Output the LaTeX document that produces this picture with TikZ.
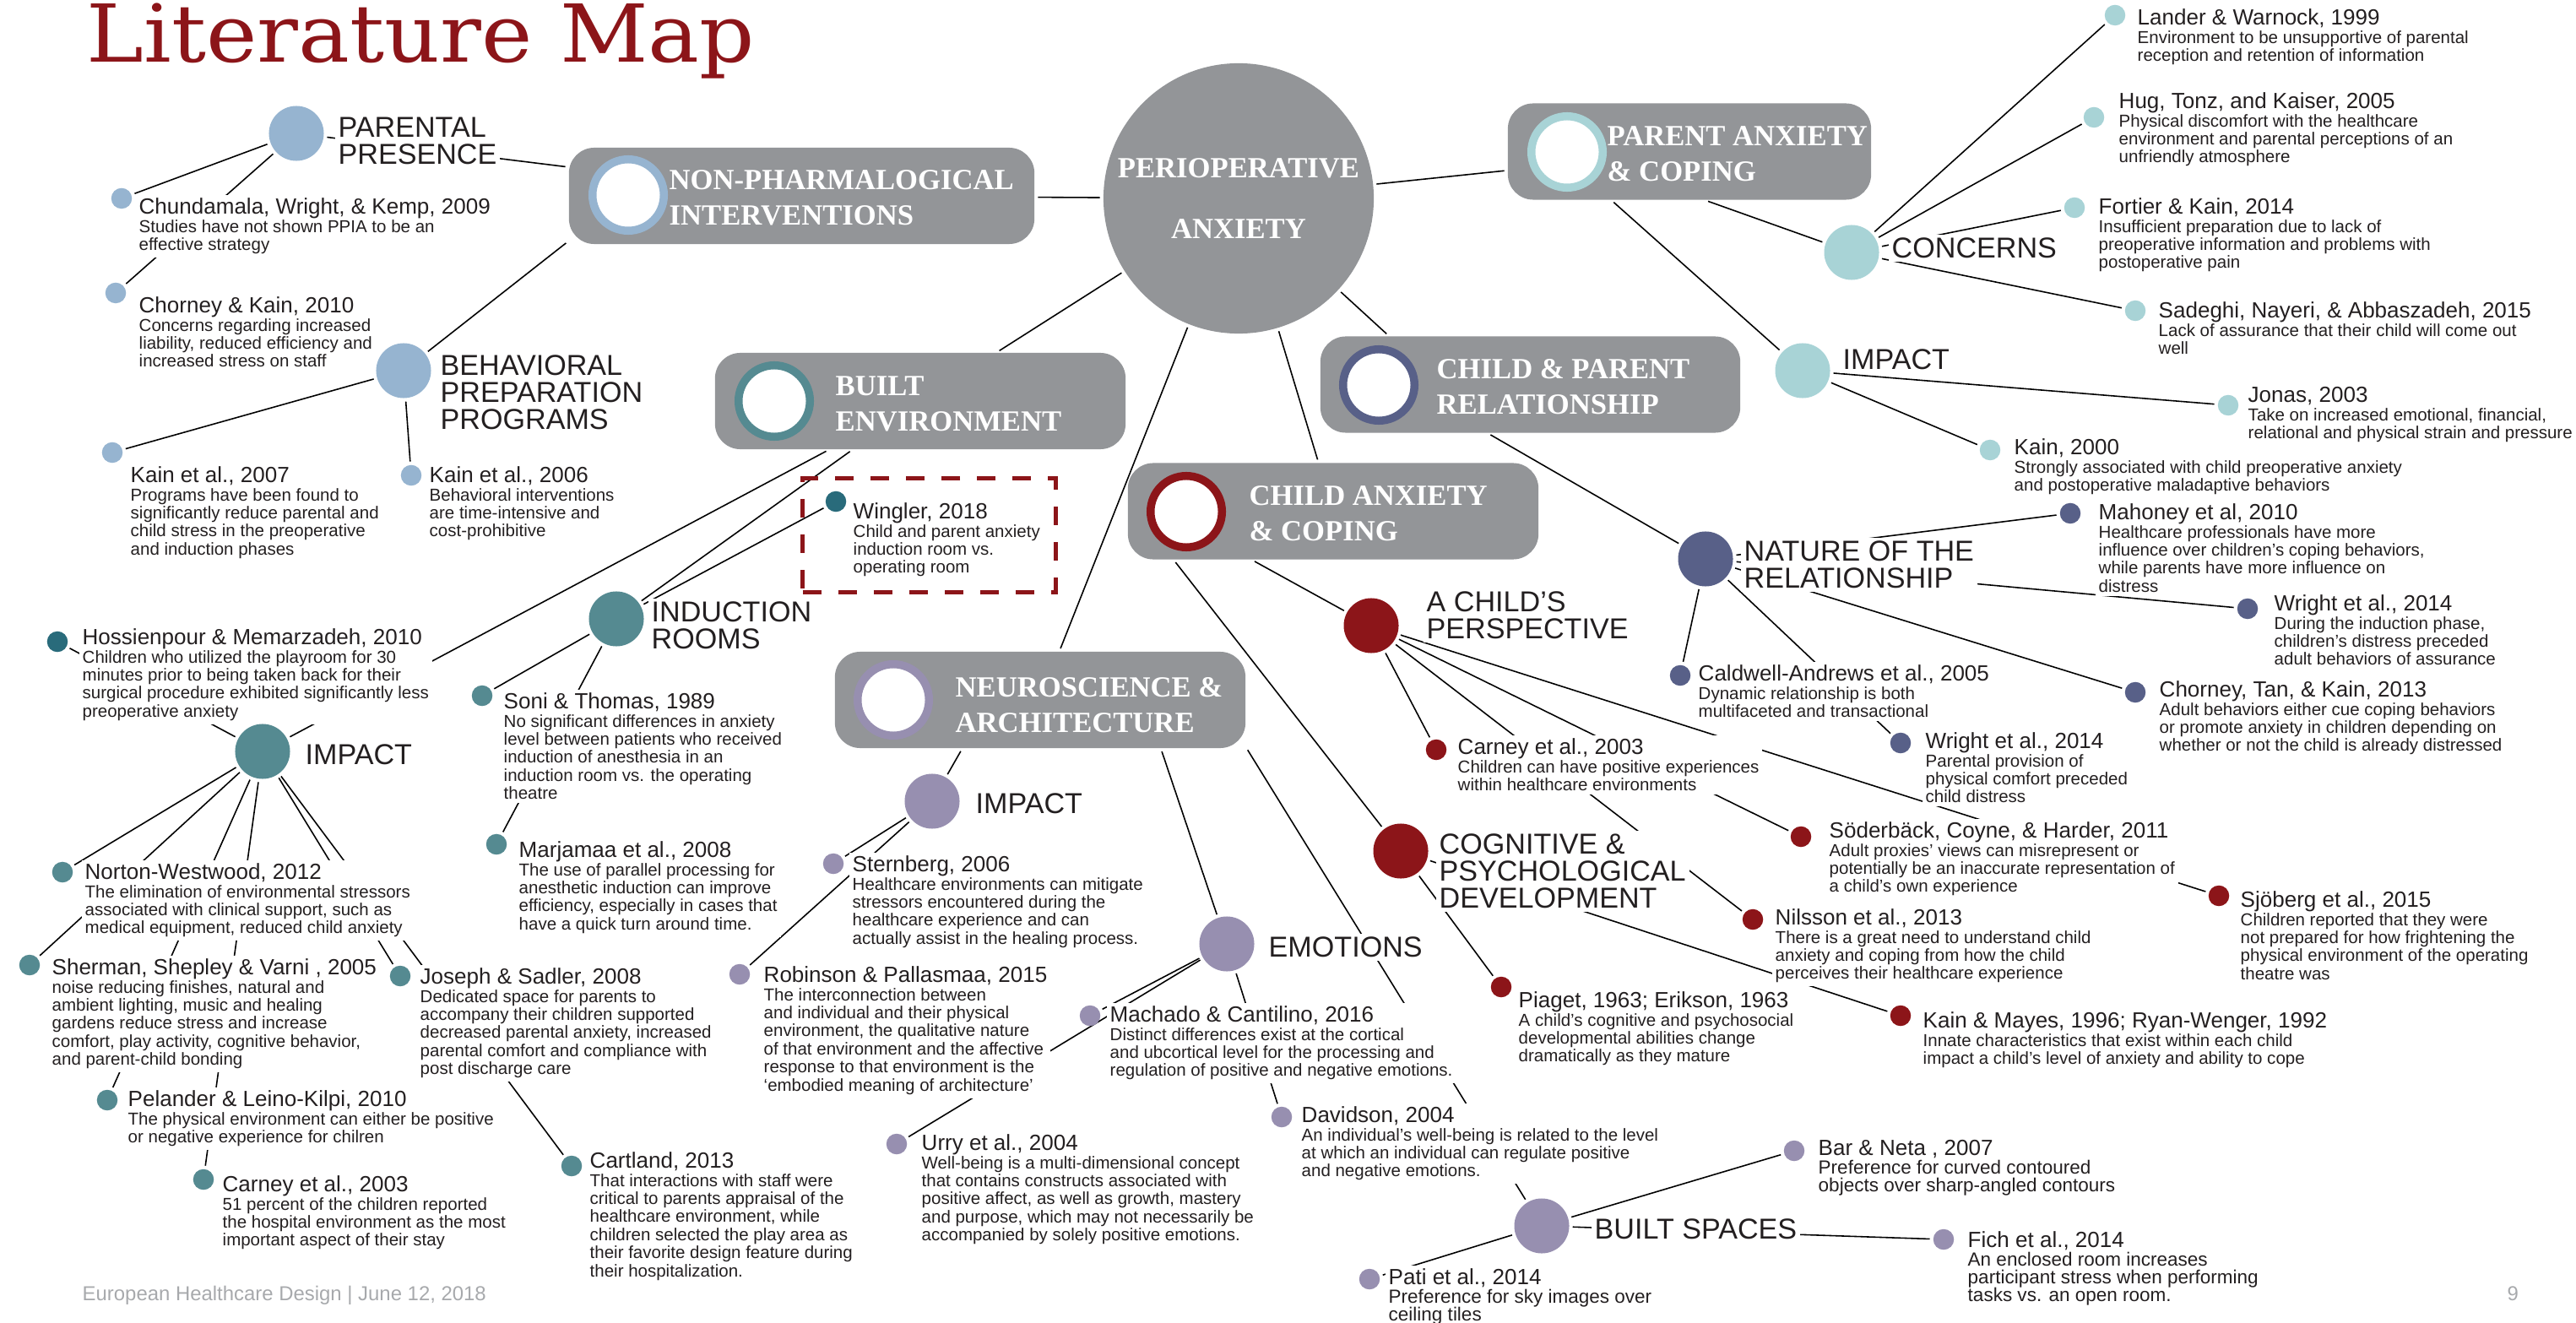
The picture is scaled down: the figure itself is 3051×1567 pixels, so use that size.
\documentclass[tikz,border=0pt]{standalone}
\usepackage{fontspec}
\setmainfont{Liberation Sans}
\newfontfamily\serifface{Liberation Serif}
\newfontfamily\mastface{DejaVu Serif}
\pgfdeclarelayer{lines}
\pgfsetlayers{lines,main}

\definecolor{GreyClr}{RGB}{147,149,152}
\definecolor{SteelClr}{RGB}{150,180,208}
\definecolor{TealClr}{RGB}{85,138,145}
\definecolor{DeepTealClr}{RGB}{41,107,123}
\definecolor{AquaClr}{RGB}{168,211,214}
\definecolor{SlateClr}{RGB}{88,96,136}
\definecolor{RedClr}{RGB}{140,21,25}
\definecolor{LilacClr}{RGB}{151,143,176}
\definecolor{TextClr}{RGB}{35,31,32}
\definecolor{FootClr}{RGB}{167,169,172}

\newcommand{\bigttlfont}{\mastface\fontsize{26.9}{30}\selectfont}
\newcommand{\hdrfont}{\serifface\bfseries\fontsize{9.85}{11.95}\selectfont}
\newcommand{\ctrfont}{\serifface\bfseries\fontsize{9.85}{20.5}\selectfont}
\newcommand{\catfont}{\fontsize{9.7}{9.1}\selectfont}
\newcommand{\ttlfont}{\fontsize{7.4}{8}\selectfont}
\newcommand{\dscfont}{\fontsize{5.83}{6.1}\selectfont}
\newcommand{\bigdscfont}{\fontsize{6.4}{6.1}\selectfont}
\newcommand{\ftrfont}{\fontsize{6.8}{8}\selectfont}

\begin{document}
\begin{tikzpicture}[x=0.01cm, y=-0.01cm,
  hub/.style={circle, fill=#1, minimum size=0.65cm, inner sep=0pt},
  dot/.style={circle, fill=#1, minimum size=0.245cm, inner sep=0pt},
  ring/.style={circle, draw=#1, line width=0.095cm, fill=white, minimum size=0.845cm, inner sep=0pt},
  hdrbox/.style={rectangle, rounded corners=0.3cm, fill=GreyClr, minimum height=1.14cm, inner sep=0pt},
  hdrtext/.style={anchor=north west, inner sep=0pt, align=left, text=white, font=\hdrfont},
  cat/.style={anchor=north west, inner sep=0.04cm, fill=white, align=left, text=TextClr, font=\catfont},
  note/.style={anchor=north west, inner sep=0.04cm, fill=white, align=left, text=TextClr, font=\dscfont},
  link/.style={line width=0.45pt, shorten <=1pt, shorten >=1pt}]

\useasboundingbox (0,0) rectangle (3051,1567);

\node[anchor=base west, inner sep=0pt, text=RedClr, font=\bigttlfont] (maptitle) at (102,74) {\scalebox{1.08}[1]{Literature Map}};
\node[anchor=base west, inner sep=0pt, text=FootClr, font=\ftrfont] (footer) at (97,1540) {European Healthcare Design | June 12, 2018};
\node[anchor=base west, inner sep=0pt, text=FootClr, font=\ftrfont] (pagenum) at (2969,1540) {9};

% centre and the six themes
\node[circle, fill=GreyClr, minimum size=3.2cm, inner sep=0pt, align=center, text=white, font=\ctrfont] (peri) at (1467,235) {PERIOPERATIVE\\ANXIETY};

\node[hdrbox, minimum width=5.51cm] (nonpharm) at (949.5,232) {};
\node[ring=SteelClr] (nonpharmring) at (744,231) {};
\node[hdrtext] (nonpharmtxt) at (792,201) {NON-PHARMALOGICAL\\INTERVENTIONS};

\node[hdrbox, minimum width=4.86cm] (builtenv) at (1090,475) {};
\node[ring=TealClr] (builtenvring) at (917,475) {};
\node[hdrtext] (builtenvtxt) at (989,445) {BUILT\\ENVIRONMENT};

\node[hdrbox, minimum width=4.30cm] (parentanx) at (2001,179.5) {};
\node[ring=AquaClr] (parentanxring) at (1856,180) {};
\node[hdrtext] (parentanxtxt) at (1903,149) {PARENT ANXIETY\\\& COPING};

\node[hdrbox, minimum width=4.97cm] (childpar) at (1812.5,455.5) {};
\node[ring=SlateClr] (childparring) at (1633,456) {};
\node[hdrtext] (childpartxt) at (1701,425) {CHILD \& PARENT\\RELATIONSHIP};

\node[hdrbox, minimum width=4.86cm] (childanx) at (1579,605.5) {};
\node[ring=RedClr] (childanxring) at (1405,606) {};
\node[hdrtext] (childanxtxt) at (1479,575) {CHILD ANXIETY\\\& COPING};

\node[hdrbox, minimum width=4.86cm] (neuro) at (1232,829) {};
\node[ring=LilacClr] (neuroring) at (1058,829) {};
\node[hdrtext] (neurotxt) at (1131,802) {NEUROSCIENCE \&\\ARCHITECTURE};

\node[draw=RedClr, line width=0.05cm, dash pattern=on 0.22cm off 0.2cm, minimum width=2.99cm, minimum height=1.34cm, inner sep=0pt] (winglerframe) at (1100.5,634) {};

% sub-theme labels
\node[cat] (parpreslbl) at (396,134) {PARENTAL\\PRESENCE};
\node[cat] (behavlbl) at (517,416) {BEHAVIORAL\\PREPARATION\\PROGRAMS};
\node[cat] (inductlbl) at (767,708) {INDUCTION\\ROOMS};
\node[cat] (beimpactlbl) at (357,877) {IMPACT};
\node[cat] (concernslbl) at (2236,277) {CONCERNS};
\node[cat] (paimpactlbl) at (2178,409) {IMPACT};
\node[cat] (naturelbl) at (2061,636) {NATURE OF THE\\RELATIONSHIP};
\node[cat] (persplbl) at (1685,696) {A CHILD’S\\PERSPECTIVE};
\node[cat] (cognitlbl) at (1700,983) {COGNITIVE \&\\PSYCHOLOGICAL\\DEVELOPMENT};
\node[cat] (nsimpactlbl) at (1151,935) {IMPACT};
\node[cat] (emotionslbl) at (1498,1105) {EMOTIONS};
\node[cat] (builtsplbl) at (1884,1439) {BUILT SPACES};

% references
\node[note] (chundtxt) at (160,230) {{\ttlfont Chundamala, Wright, \& Kemp, 2009}\\Studies have not shown PPIA to be an\\effective strategy};
\node[note] (chorney10txt) at (160,347) {{\ttlfont Chorney \& Kain, 2010}\\Concerns regarding increased\\liability, reduced efficiency and\\increased stress on staff};
\node[note] (kain07txt) at (150,548) {{\ttlfont Kain et al., 2007}\\Programs have been found to\\significantly reduce parental and\\child stress in the preoperative\\and induction phases};
\node[note] (kain06txt) at (504,548) {{\ttlfont Kain et al., 2006}\\Behavioral interventions\\are time-intensive and\\cost-prohibitive};

\node[note] (winglertxt) at (1006,591) {{\ttlfont Wingler, 2018}\\Child and parent anxiety\\induction room vs.\\operating room};
\node[note] (hossientxt) at (93,740) {{\ttlfont Hossienpour \& Memarzadeh, 2010}\\Children who utilized the playroom for 30\\minutes prior to being taken back for their\\surgical procedure exhibited significantly less\\preoperative anxiety};
\node[note] (sonitxt) at (592,816) {{\ttlfont Soni \& Thomas, 1989}\\No significant differences in anxiety\\level between patients who received\\induction of anesthesia in an\\induction room vs. the operating\\theatre};
\node[note] (marjamaatxt) at (610,992) {{\ttlfont Marjamaa et al., 2008}\\The use of parallel processing for\\anesthetic induction can improve\\efficiency, especially in cases that\\have a quick turn around time.};
\node[note] (nortontxt) at (96,1018) {{\ttlfont Norton-Westwood, 2012}\\The elimination of environmental stressors\\associated with clinical support, such as\\medical equipment, reduced child anxiety};
\node[note] (shermantxt) at (57,1131) {{\ttlfont Sherman, Shepley \& Varni , 2005}\\noise reducing finishes, natural and\\ambient lighting, music and healing\\gardens reduce stress and increase\\comfort, play activity, cognitive behavior,\\and parent-child bonding};
\node[note] (pelandertxt) at (147,1287) {{\ttlfont Pelander \& Leino-Kilpi, 2010}\\The physical environment can either be positive\\or negative experience for chilren};
\node[note] (carneybtxt) at (259,1388) {{\ttlfont Carney et al., 2003}\\51 percent of the children reported\\the hospital environment as the most\\important aspect of their stay};
\node[note] (josephtxt) at (493,1142) {{\ttlfont Joseph \& Sadler, 2008}\\Dedicated space for parents to\\accompany their children supported\\decreased parental anxiety, increased\\parental comfort and compliance with\\post discharge care};
\node[note] (cartlandtxt) at (694,1360) {{\ttlfont Cartland, 2013}\\That interactions with staff were\\critical to parents appraisal of the\\healthcare environment, while\\children selected the play area as\\their favorite design feature during\\their hospitalization.};

\node[note] (landertxt) at (2527,6) {{\ttlfont Lander \& Warnock, 1999}\\Environment to be unsupportive of parental\\reception and retention of information};
\node[note] (hugtxt) at (2505,105) {{\ttlfont Hug, Tonz, and Kaiser, 2005}\\Physical discomfort with the healthcare\\environment and parental perceptions of an\\unfriendly atmosphere};
\node[note] (fortiertxt) at (2481,230) {{\ttlfont Fortier \& Kain, 2014}\\Insufficient preparation due to lack of\\preoperative information and problems with\\postoperative pain};
\node[note] (sadeghitxt) at (2552,353) {{\ttlfont Sadeghi, Nayeri, \& Abbaszadeh, 2015}\\Lack of assurance that their child will come out\\well};
\node[note] (kain00txt) at (2381,515) {{\ttlfont Kain, 2000}\\Strongly associated with child preoperative anxiety\\and postoperative maladaptive behaviors};
\node[note] (jonastxt) at (2658,454) {{\ttlfont Jonas, 2003}\\Take on increased emotional, financial,\\relational and physical strain and pressure};

\node[note] (caldwelltxt) at (2007,783) {{\ttlfont Caldwell-Andrews et al., 2005}\\Dynamic relationship is both\\multifaceted and transactional};
\node[note] (wrightbtxt) at (2276,863) {{\ttlfont Wright et al., 2014}\\Parental provision of\\physical comfort preceded\\child distress};
\node[note] (mahoneytxt) at (2481,592) {{\ttlfont Mahoney et al, 2010}\\Healthcare professionals have more\\influence over children’s coping behaviors,\\while parents have more influence on\\distress};
\node[note] (wrightatxt) at (2689,700) {{\ttlfont Wright et al., 2014}\\During the induction phase,\\children’s distress preceded\\adult behaviors of assurance};
\node[note] (chorney13txt) at (2553,802) {{\ttlfont Chorney, Tan, \& Kain, 2013}\\Adult behaviors either cue coping behaviors\\or promote anxiety in children depending on\\whether or not the child is already distressed};

\node[note] (carneyatxt) at (1722,870) {{\ttlfont Carney et al., 2003}\\Children can have positive experiences\\within healthcare environments};
\node[note] (soderbacktxt) at (2162,969) {{\ttlfont Söderbäck, Coyne, \& Harder, 2011}\\Adult proxies’ views can misrepresent or\\potentially be an inaccurate representation of\\a child’s own experience};
\node[note] (nilssontxt) at (2098,1072) {{\ttlfont Nilsson et al., 2013}\\There is a great need to understand child\\anxiety and coping from how the child\\perceives their healthcare experience};
\node[note] (piagettxt) at (1794,1170) {{\ttlfont Piaget, 1963; Erikson, 1963}\\A child’s cognitive and psychosocial\\developmental abilities change\\dramatically as they mature};
\node[note] (kainmayestxt) at (2273,1194) {{\ttlfont Kain \& Mayes, 1996; Ryan-Wenger, 1992}\\Innate characteristics that exist within each child\\impact a child’s level of anxiety and ability to cope};
\node[note] (sjobergtxt) at (2649,1051) {{\ttlfont Sjöberg et al., 2015}\\Children reported that they were\\not prepared for how frightening the\\physical environment of the operating\\theatre was};

\node[note] (sternbergtxt) at (1005,1009) {{\ttlfont Sternberg, 2006}\\Healthcare environments can mitigate\\stressors encountered during the\\healthcare experience and can\\actually assist in the healing process.};
\node[note] (robinsontxt) at (900,1140) {{\ttlfont Robinson \& Pallasmaa, 2015}\\The interconnection between\\and individual and their physical\\environment, the qualitative nature\\of that environment and the affective\\response to that environment is the\\‘embodied meaning of architecture’};
\node[note] (machadotxt) at (1310,1187) {{\ttlfont Machado \& Cantilino, 2016}\\Distinct differences exist at the cortical\\and ubcortical level for the processing and\\regulation of positive and negative emotions.};
\node[note] (davidsontxt) at (1537,1306) {{\ttlfont Davidson, 2004}\\An individual’s well-being is related to the level\\at which an individual can regulate positive\\and negative emotions.};
\node[note] (urrytxt) at (1087,1339) {{\ttlfont Urry et al., 2004}\\Well-being is a multi-dimensional concept\\that contains constructs associated with\\positive affect, as well as growth, mastery\\and purpose, which may not necessarily be\\accompanied by solely positive emotions.};
\node[note, font=\bigdscfont] (barnetatxt) at (2149,1346) {{\ttlfont Bar \& Neta , 2007}\\Preference for curved contoured\\objects over sharp-angled contours};
\node[note, font=\bigdscfont] (fichtxt) at (2326,1454) {{\ttlfont Fich et al., 2014}\\An enclosed room increases\\participant stress when performing\\tasks vs. an open room.};
\node[note, font=\bigdscfont] (patitxt) at (1640,1498) {{\ttlfont Pati et al., 2014}\\Preference for sky images over\\ceiling tiles};

% sub-theme circles
\node[hub=SteelClr] (parpres) at (351,158) {};
\node[hub=SteelClr] (behav) at (478,439) {};
\node[hub=TealClr] (induct) at (730,733) {};
\node[hub=TealClr] (beimpact) at (311,890) {};
\node[hub=AquaClr] (concerns) at (2193,299) {};
\node[hub=AquaClr] (paimpact) at (2135,439) {};
\node[hub=SlateClr] (nature) at (2020,662) {};
\node[hub=RedClr] (persp) at (1624,741) {};
\node[hub=RedClr] (cognit) at (1659,1008) {};
\node[hub=LilacClr] (nsimpact) at (1104,949) {};
\node[hub=LilacClr] (emotions) at (1453,1118) {};
\node[hub=LilacClr] (builtsp) at (1826,1452) {};

% reference dots
\node[dot=SteelClr] (chund) at (144,235) {};
\node[dot=SteelClr] (chorney10) at (137,347) {};
\node[dot=SteelClr] (kain07) at (133,536) {};
\node[dot=SteelClr] (kain06) at (487,563) {};

\node[dot=DeepTealClr] (wingler) at (990,594) {};
\node[dot=DeepTealClr] (hossien) at (68,760) {};
\node[dot=TealClr] (soni) at (571,824) {};
\node[dot=TealClr] (marjamaa) at (588,1000) {};
\node[dot=TealClr] (norton) at (74,1033) {};
\node[dot=TealClr] (sherman) at (35,1143) {};
\node[dot=TealClr] (pelander) at (127,1303) {};
\node[dot=TealClr] (carneyb) at (241,1397) {};
\node[dot=TealClr] (joseph) at (474,1156) {};
\node[dot=TealClr] (cartland) at (677,1381) {};

\node[dot=AquaClr] (lander) at (2505,18) {};
\node[dot=AquaClr] (hug) at (2480,139) {};
\node[dot=AquaClr] (fortier) at (2457,246) {};
\node[dot=AquaClr] (sadeghi) at (2529,368) {};
\node[dot=AquaClr] (jonas) at (2639,480) {};
\node[dot=AquaClr] (kain00) at (2357,533) {};

\node[dot=SlateClr] (caldwell) at (1990,800) {};
\node[dot=SlateClr] (wrightb) at (2251,880) {};
\node[dot=SlateClr] (mahoney) at (2452,608) {};
\node[dot=SlateClr] (wrighta) at (2662,721) {};
\node[dot=SlateClr] (chorney13) at (2529,820) {};

\node[dot=RedClr] (carneya) at (1701,888) {};
\node[dot=RedClr] (soderback) at (2133,991) {};
\node[dot=RedClr] (nilsson) at (2076,1089) {};
\node[dot=RedClr] (piaget) at (1778,1169) {};
\node[dot=RedClr] (kainmayes) at (2251,1203) {};
\node[dot=RedClr] (sjoberg) at (2628,1061) {};

\node[dot=LilacClr] (sternberg) at (987,1023) {};
\node[dot=LilacClr] (robinson) at (876,1154) {};
\node[dot=LilacClr] (machado) at (1291,1203) {};
\node[dot=LilacClr] (davidson) at (1518,1323) {};
\node[dot=LilacClr] (urry) at (1062,1355) {};
\node[dot=LilacClr] (barneta) at (2125,1363) {};
\node[dot=LilacClr] (fich) at (2302,1468) {};
\node[dot=LilacClr] (pati) at (1622,1515) {};

\begin{pgfonlayer}{lines}
\draw[link] (peri) -- (nonpharm);
\draw[link] (peri) -- (builtenv);
\draw[link] (peri) -- (parentanx);
\draw[link] (peri) -- (childpar.161);
\draw[link] (peri) -- (childanx);
\draw[link] (peri) -- (neuro);

\draw[link] (nonpharm) -- (parpres);
\draw[link] (nonpharm.191) -- (behav);
\draw[link] (parpres) -- (chund);
\draw[link] (parpres) -- (chorney10);
\draw[link] (behav) -- (kain07);
\draw[link] (behav) -- (kain06);

\draw[link] (builtenv) -- (induct);
\draw[link] (builtenv) -- (beimpact);
\draw[link] (wingler) -- (induct);
\draw[link] (induct) -- (soni);
\draw[link] (induct) -- (marjamaa);
\draw[link] (beimpact) -- (hossien);
\draw[link] (beimpact) -- (norton);
\draw[link] (beimpact) -- (sherman);
\draw[link] (beimpact) -- (pelander);
\draw[link] (beimpact) -- (carneyb);
\draw[link] (beimpact) -- (joseph);
\draw[link] (beimpact) -- (cartland);

\draw[link] (parentanx.-72) -- (concerns);
\draw[link] (parentanx.-148) -- (paimpact);
\draw[link] (concerns) -- (lander);
\draw[link] (concerns) -- (hug);
\draw[link] (concerns) -- (fortier);
\draw[link] (concerns) -- (sadeghi);
\draw[link] (paimpact) -- (jonas);
\draw[link] (paimpact) -- (kain00);

\draw[link] (childpar.229) -- (nature);
\draw[link] (nature) -- (caldwell);
\draw[link] (nature) -- (wrightb);
\draw[link] (nature) -- (mahoney);
\draw[link] (nature) -- (wrighta);
\draw[link] (nature) -- (chorney13);

\draw[link] (childanx.211) -- (persp);
\draw[link] (childanx.197) -- (cognit);
\draw[link] (persp) -- (carneya);
\draw[link] (persp) -- (nilsson);
\draw[link] (persp) -- (soderback);
\draw[link] (persp) -- (sjoberg);
\draw[link] (cognit) -- (piaget);
\draw[link] (cognit) -- (kainmayes);

\draw[link] (neuro.212) -- (nsimpact);
\draw[link] (neuro.338) -- (emotions);
\draw[link] (neuro.-13) -- (builtsp);
\draw[link] (nsimpact) -- (sternberg);
\draw[link] (nsimpact) -- (robinson);
\draw[link] (emotions) -- (machado);
\draw[link] (emotions) -- (davidson);
\draw[link] (emotions) -- (urry);
\draw[link] (builtsp) -- (barneta);
\draw[link] (builtsp) -- (fich);
\draw[link] (builtsp) -- (pati);
\end{pgfonlayer}

\end{tikzpicture}
\end{document}
